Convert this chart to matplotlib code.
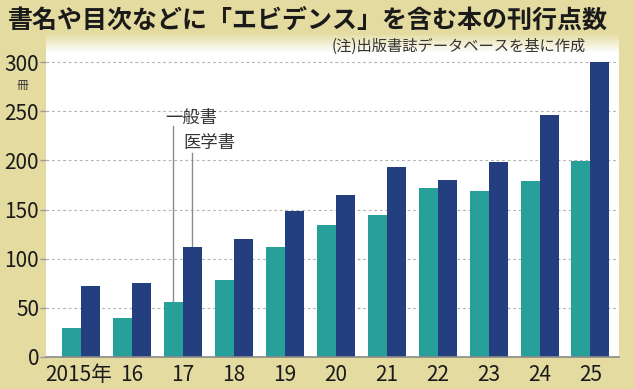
import numpy as np
import matplotlib
matplotlib.use("Agg")
import matplotlib.pyplot as plt
from matplotlib.colors import to_rgb

plt.rcParams["font.family"] = ["Noto Sans CJK JP", "DejaVu Sans"]

# データ
years = ["2015年", "16", "17", "18", "19", "20", "21", "22", "23", "24", "25"]
general = [29, 39, 56, 78, 112, 134, 144, 172, 169, 179, 199]     # 一般書
medical = [72, 75, 112, 120, 148, 165, 193, 180, 198, 246, 300]   # 医学書
yticks = [0, 50, 100, 150, 200, 250, 300]

TEAL = "#27a09a"
NAVY = "#243f80"
KHAKI = "#e4dba0"
W, H = 634, 389

fig = plt.figure(figsize=(W / 100, H / 100), dpi=100, facecolor=KHAKI)

# 上部のグラデーション（カーキ→白）
gax = fig.add_axes([46 / W, 1 - 53 / H, (619 - 46) / W, 20 / H])
c0 = np.array(to_rgb(KHAKI)); c1 = np.ones(3)
t = np.linspace(0, 1, 50)[:, None]
grad = (c0 * (1 - t) + c1 * t)[:, None, :]
gax.imshow(grad, aspect="auto", extent=(0, 1, 0, 1), origin="upper")
gax.axis("off")

ax = fig.add_axes([46 / W, 32.3 / H, (619 - 46) / W, (356.7 - 52) / H])
ax.set_facecolor("white")

x = np.arange(len(years))
w = 0.373
ax.bar(x - w / 2, general, width=w, color=TEAL, zorder=3)
ax.bar(x + w / 2, medical, width=w, color=NAVY, zorder=3)

ax.set_xlim(-0.686, 10.56)
ax.set_ylim(0, 310.5)
for s in ["top", "right", "left"]:
    ax.spines[s].set_visible(False)
ax.spines["bottom"].set_color("#8a8a8a")
ax.spines["bottom"].set_linewidth(1.2)
ax.spines["bottom"].set_zorder(4)

ax.set_yticks(yticks)
ax.set_yticklabels([str(v) for v in yticks], fontsize=15, color="#1a1a1a")
ax.tick_params(axis="y", length=4, color="#9a9a9a", width=1, pad=1)
for v in yticks[1:]:
    ax.axhline(v, color="#b4b4b4", lw=0.8, ls=(0, (2.5, 2.5)), zorder=1)

ax.set_xticks([])
for i, lb in enumerate(years):
    off = -0.05 if i == 0 else 0
    ax.text(i + off, -7, lb, ha="center", va="top", fontsize=15,
            color="#1a1a1a", clip_on=False)

# 単位
fig.text(22 / W, 1 - 85 / H, "冊", ha="center", va="center", fontsize=8.5,
         color="#333333")

# 凡例（引き出し線）
ax.plot([2 - w / 2, 2 - w / 2], [general[2], 235], color="#8c8c8c", lw=1, zorder=2)
ax.text(1.647, 243, "一般書", ha="left", va="center", fontsize=12.5,
        color="#333333", zorder=5)
ax.plot([2 + w / 2, 2 + w / 2], [medical[2], 208], color="#8c8c8c", lw=1, zorder=2)
ax.text(2.02, 218, "医学書", ha="left", va="center", fontsize=12.5,
        color="#333333", zorder=5)

# タイトル・注
fig.text(8 / W, 1 - 20 / H, "書名や目次などに「エビデンス」を含む本の刊行点数",
         ha="left", va="center", fontsize=18, fontweight="bold", color="#1a1a1a")
fig.text(586 / W, 1 - 46 / H, "(注)出版書誌データベースを基に作成",
         ha="right", va="center", fontsize=11, color="#333333")

fig.savefig("out.png", dpi=100, facecolor=KHAKI)
